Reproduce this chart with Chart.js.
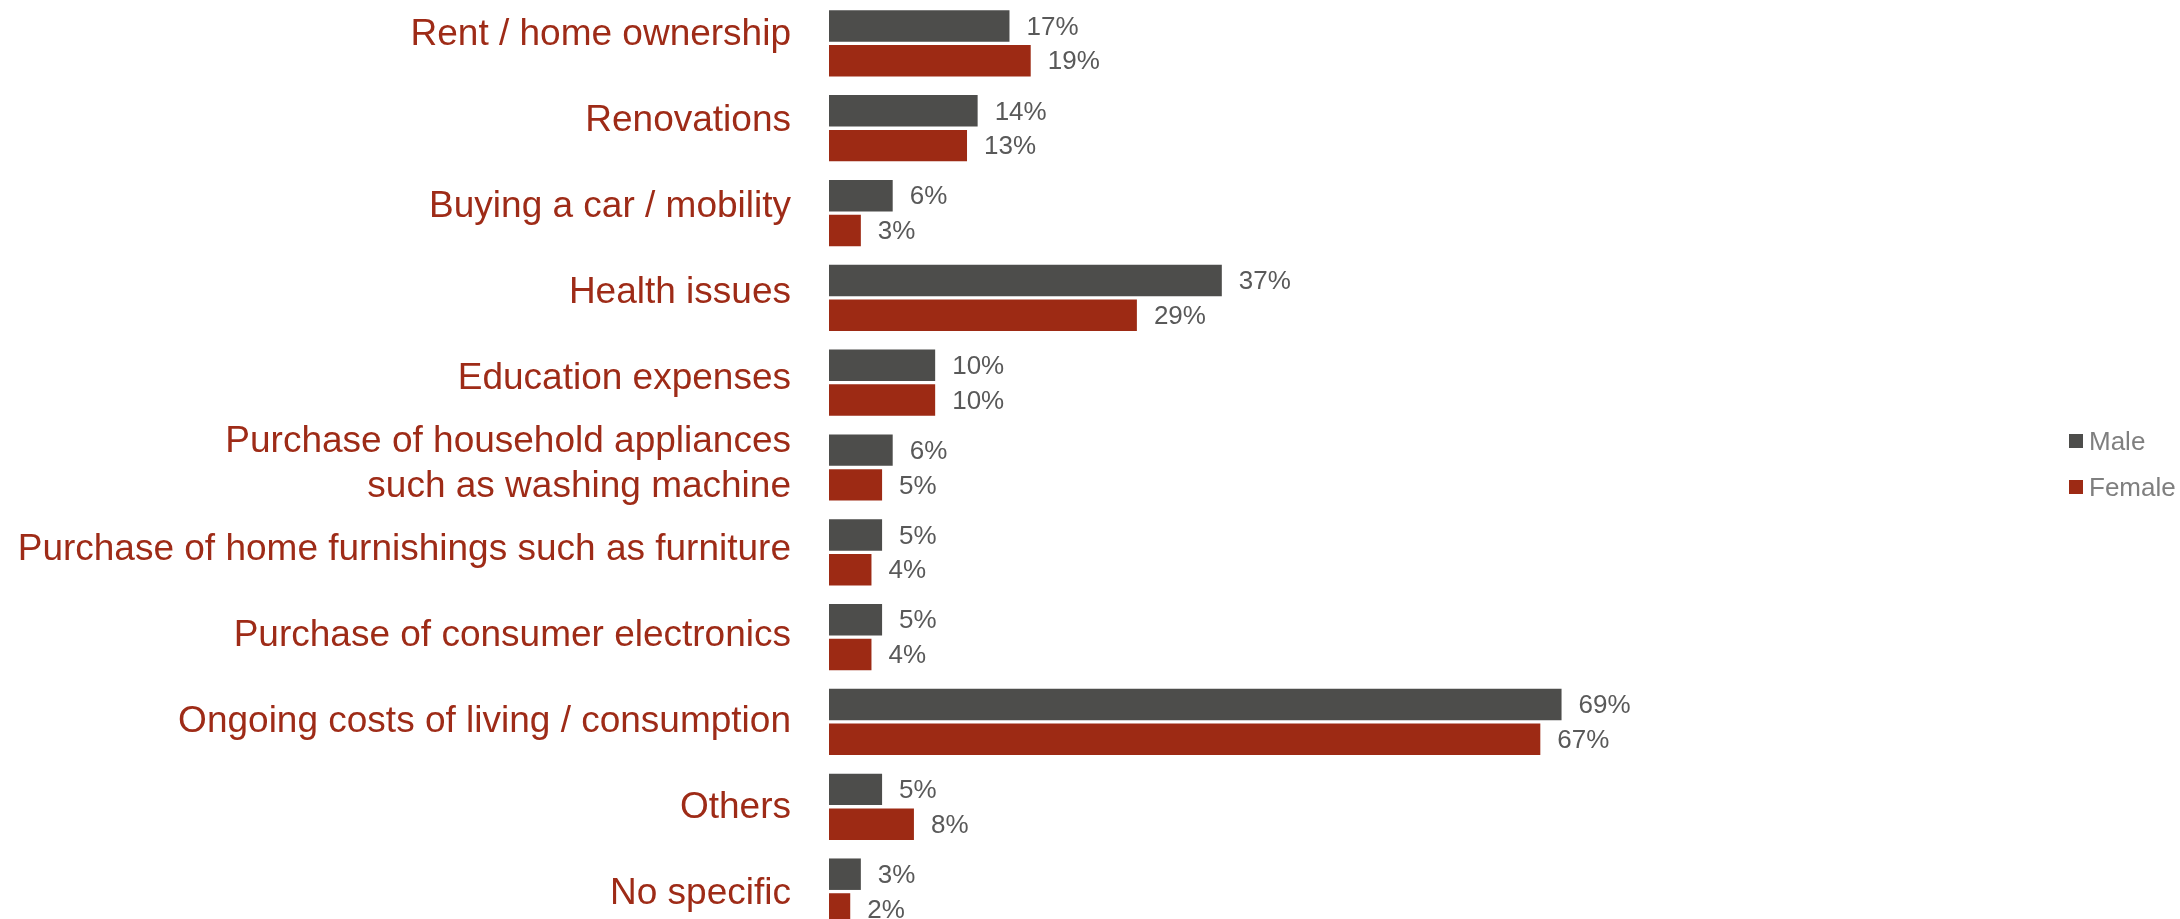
<!DOCTYPE html>
<html>
<head>
<meta charset="utf-8">
<title>Spending by gender</title>
<script src="https://cdn.jsdelivr.net/npm/chart.js@4.4.1/dist/chart.umd.min.js"></script>
<style>
	html, body { margin: 0; padding: 0; background: #ffffff; overflow: hidden; }
	#wrap { position: relative; width: 2180px; height: 919px; overflow: hidden; }
	#legend { position: absolute; left: 2069px; top: 426px; font-family: "Liberation Sans", Arial, sans-serif; font-size: 26px; color: #7f7f7f; }
	#legend .item { display: flex; align-items: center; height: 30px; margin-bottom: 16px; }
	#legend .box { width: 14px; height: 14px; margin-right: 6px; }
</style>
</head>
<body>
<div id="wrap">
	<canvas id="mycanvas" width="2180" height="934"></canvas>
	<div id="legend"></div>
</div>
<script>
var categories = [
	'Rent / home ownership',
	'Renovations',
	'Buying a car / mobility',
	'Health issues',
	'Education expenses',
	['Purchase of household appliances', 'such as washing machine'],
	'Purchase of home furnishings such as furniture',
	'Purchase of consumer electronics',
	'Ongoing costs of living / consumption',
	'Others',
	'No specific'
];
var male = [17, 14, 6, 37, 10, 6, 5, 5, 69, 5, 3];
var female = [19, 13, 3, 29, 10, 5, 4, 4, 67, 8, 2];
var seriesNames = ['Male', 'Female'];
var seriesColors = ['#4d4d4b', '#9d2a14'];

// percentage printed just right of every bar
var valueLabels = {
	id: 'valueLabels',
	afterDatasetsDraw: function(chart) {
		var ctx = chart.ctx;
		ctx.save();
		ctx.font = '26px "Liberation Sans", Arial, sans-serif';
		ctx.fillStyle = '#595959';
		ctx.textAlign = 'left';
		ctx.textBaseline = 'middle';
		chart.data.datasets.forEach(function(ds, i) {
			chart.getDatasetMeta(i).data.forEach(function(bar, j) {
				ctx.fillText(ds.data[j] + '%', bar.x + 17, bar.y + 1.5);
			});
		});
		ctx.restore();
	}
};

var chartdata = {
	labels: categories,
	datasets: [
		{
			label: seriesNames[0],
			backgroundColor: seriesColors[0],
			data: male
		},
		{
			label: seriesNames[1],
			backgroundColor: seriesColors[1],
			data: female
		}
	]
};

var ctx = document.getElementById('mycanvas');

var barGraph = new Chart(ctx, {
	type: 'bar',
	data: chartdata,
	plugins: [valueLabels],
	options: {
		indexAxis: 'y',
		responsive: false,
		animation: false,
		categoryPercentage: 0.82,
		barPercentage: 0.905,
		layout: { padding: { top: 1, right: 77, bottom: 0, left: 0 } },
		plugins: {
			legend: { display: false },
			tooltip: { enabled: false }
		},
		scales: {
			x: {
				display: false,
				min: 0,
				max: 120
			},
			y: {
				display: false
			},
			// category names sit on their own axis, spaced a little wider than the bars
			names: {
				type: 'linear',
				position: 'left',
				reverse: true,
				offset: false,
				min: -0.393,
				max: 10.466,
				grid: { display: false, drawTicks: false },
				border: { display: false },
				afterBuildTicks: function(axis) {
					axis.ticks = categories.map(function(c, i) { return { value: i }; });
				},
				afterFit: function(axis) {
					axis.width = 829;
					// no extra room above/below: the bars use the full height
					axis.paddingTop = 0;
					axis.paddingBottom = 0;
				},
				ticks: {
					autoSkip: false,
					padding: 38,
					color: '#9e2b17',
					font: { family: '"Liberation Sans", Arial, sans-serif', size: 37 },
					callback: function(value, index) {
						return categories[index];
					}
				}
			}
		}
	}
});

// legend next to the chart
var legend = document.getElementById('legend');
barGraph.data.datasets.forEach(function(ds) {
	var item = document.createElement('div');
	item.className = 'item';
	var box = document.createElement('span');
	box.className = 'box';
	box.style.background = ds.backgroundColor;
	var txt = document.createElement('span');
	txt.textContent = ds.label;
	item.appendChild(box);
	item.appendChild(txt);
	legend.appendChild(item);
});
</script>
</body>
</html>
